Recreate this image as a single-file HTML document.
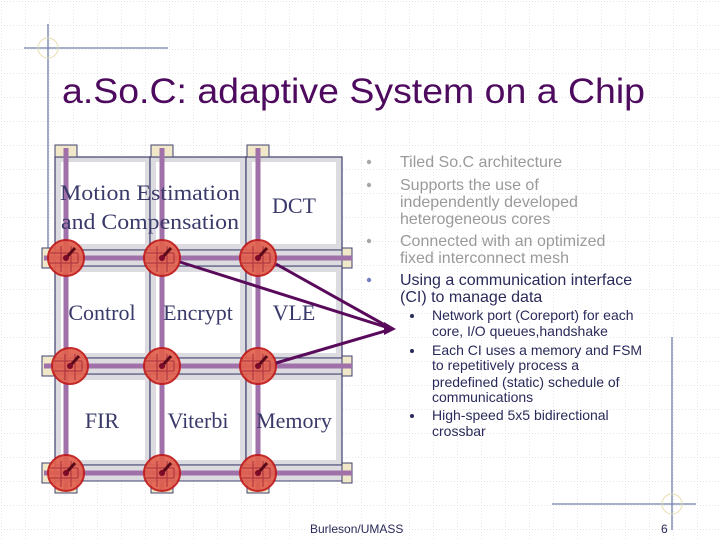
<!DOCTYPE html>
<html><head><meta charset="utf-8"><style>
html,body{margin:0;padding:0;background:#fff;}
svg{display:block;}
</style></head><body>
<svg width="720" height="540" viewBox="0 0 720 540" xmlns="http://www.w3.org/2000/svg">
<defs>
<pattern id="g" width="24" height="24" patternUnits="userSpaceOnUse" x="1" y="1">
<path d="M0 0H24M0 0V24" stroke="#cfcfd6" stroke-width="1" stroke-dasharray="1 2" fill="none"/>
</pattern>
<g id="r">
<circle r="18" fill="#e2604e" stroke="#c01818" stroke-width="2" opacity="0.92"/>
<path d="M-16 -5H12M-16 5H12M-5 -12V14M5 -12V14M12 -5V5" stroke="#a8303a" stroke-width="1" fill="none"/>
<line x1="0" y1="0" x2="9" y2="-10" stroke="#5a0a1a" stroke-width="3"/>
<circle r="3" fill="#7a0a2a"/>
</g>
</defs>
<rect width="720" height="540" fill="url(#g)"/>
<!-- decorations -->
<line x1="48" y1="24" x2="48" y2="256" stroke="#7080a8" stroke-width="1.3"/>
<line x1="24" y1="48" x2="168" y2="48" stroke="#7080a8" stroke-width="1.3"/>
<circle cx="48" cy="48" r="10" fill="none" stroke="#e8dcb0" stroke-width="1"/>
<line x1="672" y1="337" x2="672" y2="530" stroke="#7080a8" stroke-width="1.3"/>
<line x1="552" y1="504" x2="696" y2="504" stroke="#7080a8" stroke-width="1.3"/>
<circle cx="672" cy="504" r="10" fill="none" stroke="#e8dcb0" stroke-width="1"/>
<text x="62" y="103" font-family="Liberation Sans, sans-serif" font-size="35" fill="#4e0a5e" textLength="583" lengthAdjust="spacingAndGlyphs">a.So.C: adaptive System on a Chip</text>

<!-- tiles -->
<g stroke="#404070" stroke-width="1.2">
<rect x="55" y="157" width="95" height="93" fill="#dcdce0"/>
<rect x="150" y="157" width="96" height="93" fill="#dcdce0"/>
<rect x="246" y="157" width="96" height="93" fill="#dcdce0"/>
<rect x="55" y="266" width="95" height="92" fill="#dcdce0"/>
<rect x="150" y="266" width="96" height="92" fill="#dcdce0"/>
<rect x="246" y="266" width="96" height="92" fill="#dcdce0"/>
<rect x="55" y="374" width="95" height="91" fill="#dcdce0"/>
<rect x="150" y="374" width="96" height="91" fill="#dcdce0"/>
<rect x="246" y="374" width="96" height="91" fill="#dcdce0"/>
</g>
<g fill="#fff">
<rect x="61" y="162" width="84" height="82"/><rect x="156" y="162" width="84" height="82"/><rect x="252" y="162" width="84" height="82"/>
<rect x="61" y="272" width="84" height="81"/><rect x="156" y="272" width="84" height="81"/><rect x="252" y="272" width="84" height="81"/>
<rect x="61" y="380" width="84" height="80"/><rect x="156" y="380" width="84" height="80"/><rect x="252" y="380" width="84" height="80"/>
</g>
<!-- buses -->
<g fill="#dcdce0" stroke="#404070" stroke-width="1">
<rect x="42" y="250" width="308" height="16"/>
<rect x="42" y="358" width="308" height="16"/>
<rect x="42" y="465" width="308" height="16"/>
</g>
<g fill="#f0e8c8" stroke="#404070" stroke-width="1">
<rect x="55" y="145" width="22" height="12"/><rect x="151" y="145" width="22" height="12"/><rect x="247" y="145" width="22" height="12"/>
<rect x="55" y="481" width="22" height="12"/><rect x="151" y="481" width="22" height="12"/><rect x="247" y="481" width="22" height="12"/>
<rect x="42" y="248" width="13" height="20"/><rect x="42" y="356" width="13" height="20"/><rect x="42" y="463" width="13" height="20"/>
<rect x="342" y="248" width="10" height="20"/><rect x="342" y="356" width="10" height="20"/><rect x="342" y="463" width="10" height="20"/>
</g>
<g stroke="#a070a8" stroke-width="5">
<line x1="66" y1="148" x2="66" y2="490"/><line x1="162" y1="148" x2="162" y2="490"/><line x1="258" y1="148" x2="258" y2="490"/>
<line x1="44" y1="258" x2="352" y2="258"/><line x1="44" y1="366" x2="352" y2="366"/><line x1="44" y1="473" x2="352" y2="473"/>
</g>
<g font-family="Liberation Serif, serif" font-size="22" fill="#3a3a6a" text-anchor="middle">
<text x="150" y="200" textLength="180" lengthAdjust="spacingAndGlyphs">Motion Estimation</text>
<text x="150" y="229" textLength="178" lengthAdjust="spacingAndGlyphs">and Compensation</text>
<text x="294" y="213">DCT</text>
<text x="102" y="320">Control</text>
<text x="198" y="320">Encrypt</text>
<text x="294" y="320">VLE</text>
<text x="102" y="428">FIR</text>
<text x="198" y="428">Viterbi</text>
<text x="294" y="428">Memory</text>
</g>
<use href="#r" x="66" y="258"/><use href="#r" x="162" y="258"/><use href="#r" x="258" y="258"/>
<use href="#r" x="70" y="366"/><use href="#r" x="162" y="366"/><use href="#r" x="258" y="366"/>
<use href="#r" x="66" y="473"/><use href="#r" x="162" y="473"/><use href="#r" x="258" y="473"/>
<g stroke="#5a0a5a" stroke-width="3" fill="none">
<line x1="180" y1="262" x2="392" y2="329"/>
<line x1="276" y1="264" x2="392" y2="329"/>
<line x1="276" y1="363" x2="392" y2="329"/>
</g>
<polygon points="384,322 396,329 384,335" fill="#5a0a5a"/>
<!-- right text -->
<g font-family="Liberation Sans, sans-serif" font-size="16" fill="#9a9a9a">
<circle cx="369" cy="162" r="2.2" fill="#a8a8a8"/><text x="400" y="167">Tiled So.C architecture</text>
<circle cx="369" cy="185" r="2.2" fill="#a8a8a8"/><text x="400" y="190">Supports the use of</text>
<text x="400" y="207">independently developed</text>
<text x="400" y="224">heterogeneous cores</text>
<circle cx="369" cy="241" r="2.2" fill="#a8a8a8"/><text x="400" y="246">Connected with an optimized</text>
<text x="400" y="263">fixed interconnect mesh</text>
<circle cx="369" cy="280" r="2.2" fill="#7080c0"/>
<text x="400" y="285" fill="#2a2a5a">Using a communication interface</text>
<text x="400" y="302" fill="#2a2a5a">(CI) to manage data</text>
</g>
<g font-family="Liberation Sans, sans-serif" font-size="14" fill="#2a2a5a">
<circle cx="412" cy="316" r="2" /><text x="432" y="320">Network port (Coreport) for each</text>
<text x="432" y="336">core, I/O queues,handshake</text>
<circle cx="412" cy="351" r="2" /><text x="432" y="355">Each CI uses a memory and FSM</text>
<text x="432" y="370">to repetitively process a</text>
<text x="432" y="387">predefined (static) schedule of</text>
<text x="432" y="402">communications</text>
<circle cx="412" cy="416" r="2" /><text x="432" y="420">High-speed 5x5 bidirectional</text>
<text x="432" y="436">crossbar</text>
</g>
<text x="310" y="533" font-family="Liberation Sans, sans-serif" font-size="12" fill="#2a2a5a">Burleson/UMASS</text>
<text x="661" y="533" font-family="Liberation Sans, sans-serif" font-size="12" fill="#2a2a5a">6</text>
</svg>
</body></html>
